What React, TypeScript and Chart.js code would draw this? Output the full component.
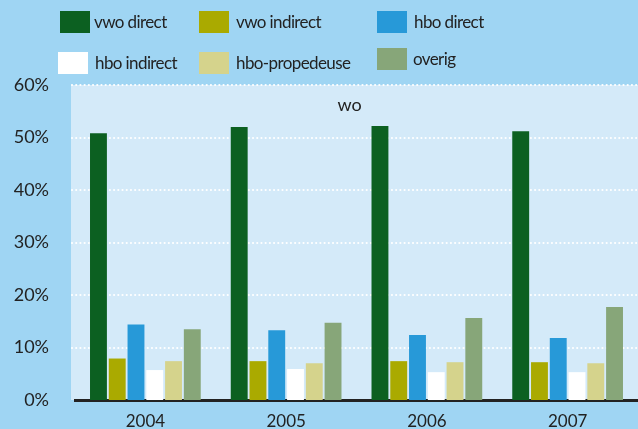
import React, { useEffect, useRef } from "react";
import { Chart, registerables } from "chart.js";

Chart.register(...registerables);

const years = ["2004", "2005", "2006", "2007"];
const seriesNames = ["vwo direct", "vwo indirect", "hbo direct", "hbo indirect", "hbo-propedeuse", "overig"];
const vwoDirect = [50.8, 52.0, 52.2, 51.2];
const vwoIndirect = [7.9, 7.4, 7.4, 7.2];
const hboDirect = [14.4, 13.3, 12.4, 11.8];
const hboIndirect = [5.7, 5.9, 5.3, 5.3];
const hboPropedeuse = [7.4, 7.0, 7.2, 7.0];
const overig = [13.5, 14.7, 15.6, 17.7];
const yTicks = [0, 10, 20, 30, 40, 50, 60];
const panelTitle = "wo";

const colors = ["#0c6021", "#aaaa00", "#2799d8", "#ffffff", "#d5d38c", "#87a679"];
const FONT = "Lato, 'Open Sans', sans-serif";

const legendLayout = [
  { left: 60, top: 11, gap: 4 },
  { left: 199, top: 11, gap: 7 },
  { left: 377, top: 11, gap: 7 },
  { left: 58, top: 52, gap: 7 },
  { left: 199, top: 52, gap: 7 },
  { left: 377, top: 48, gap: 6 },
];

export default function App() {
  const ref = useRef<HTMLCanvasElement | null>(null);

  useEffect(() => {
    if (!ref.current) return;
    const values = [vwoDirect, vwoIndirect, hboDirect, hboIndirect, hboPropedeuse, overig];
    const bgPlugin = {
      id: "bg",
      beforeDraw(chart: any) {
        const { ctx, chartArea } = chart;
        ctx.save();
        ctx.fillStyle = "#d4eaf9";
        ctx.fillRect(chartArea.left - 4, chartArea.top, chartArea.right - chartArea.left + 4, chartArea.bottom - chartArea.top);
        const y = chart.scales.y;
        ctx.strokeStyle = "#ffffff";
        ctx.lineWidth = 2.2;
        ctx.lineCap = "round";
        ctx.setLineDash([0.01, 4.2]);
        yTicks.forEach((v) => {
          if (v === 0) return;
          const py = Math.round(y.getPixelForValue(v));
          ctx.beginPath();
          ctx.moveTo(chartArea.left - 3, py);
          ctx.lineTo(chartArea.right, py);
          ctx.stroke();
        });
        ctx.restore();
      },
      afterDatasetsDraw(chart: any) {
        const { ctx, chartArea } = chart;
        ctx.save();
        ctx.fillStyle = "#222";
        ctx.font = `18px ${FONT}`;
        ctx.textAlign = "center";
        ctx.textBaseline = "middle";
        ctx.fillText(panelTitle, (chartArea.left + chartArea.right) / 2 - 7, chartArea.top + 20);
        ctx.restore();
      },
    };
    const chart = new Chart(ref.current, {
      type: "bar",
      data: {
        labels: years,
        datasets: seriesNames.map((name, i) => ({
          label: name,
          data: values[i],
          backgroundColor: colors[i],
          borderWidth: 0,
          categoryPercentage: 0.8,
          barPercentage: 0.9,
        })),
      },
      options: {
        animation: false,
        responsive: false,
        layout: { padding: { top: 85, left: 0, right: 0, bottom: 0 } },
        plugins: { legend: { display: false }, tooltip: { enabled: false } },
        scales: {
          x: {
            afterFit(scale: any) {
              scale.height = 29;
              scale.paddingLeft = 0;
              scale.paddingRight = 0;
            },
            grid: { display: false, drawTicks: false },
            border: { display: true, color: "#222", width: 3 },
            ticks: { color: "#222", padding: 11, font: { family: FONT, size: 17 } },
          },
          y: {
            min: 0,
            max: 60,
            afterFit(scale: any) {
              scale.width = 75;
              scale.paddingTop = 0;
              scale.paddingBottom = 0;
            },
            afterBuildTicks(scale: any) { scale.ticks = yTicks.map((v) => ({ value: v })); },
            grid: { display: false, drawTicks: false },
            border: { display: false },
            ticks: {
              color: "#222",
              padding: 26,
              font: { family: FONT, size: 18 },
              callback: (v: any) => `${v}%`,
            },
          },
        },
      },
      plugins: [bgPlugin],
    });
    return () => chart.destroy();
  }, []);

  return (
    <div style={{ position: "absolute", left: 0, top: 0, width: 638, height: 429, background: "#9fd5f3", overflow: "hidden", fontFamily: FONT }}>
      <canvas ref={ref} width={638} height={429} style={{ position: "absolute", left: 0, top: 0 }} />
      {seriesNames.map((name, i) => (
        <div key={name} style={{ position: "absolute", left: legendLayout[i].left, top: legendLayout[i].top, height: 22, display: "flex", alignItems: "center", whiteSpace: "nowrap" }}>
          <span style={{ display: "inline-block", width: 30, height: 22, background: colors[i] }} />
          <span style={{ marginLeft: legendLayout[i].gap, fontSize: 17, color: "#222", lineHeight: "22px", letterSpacing: "-0.6px" }}>{name}</span>
        </div>
      ))}
    </div>
  );
}
